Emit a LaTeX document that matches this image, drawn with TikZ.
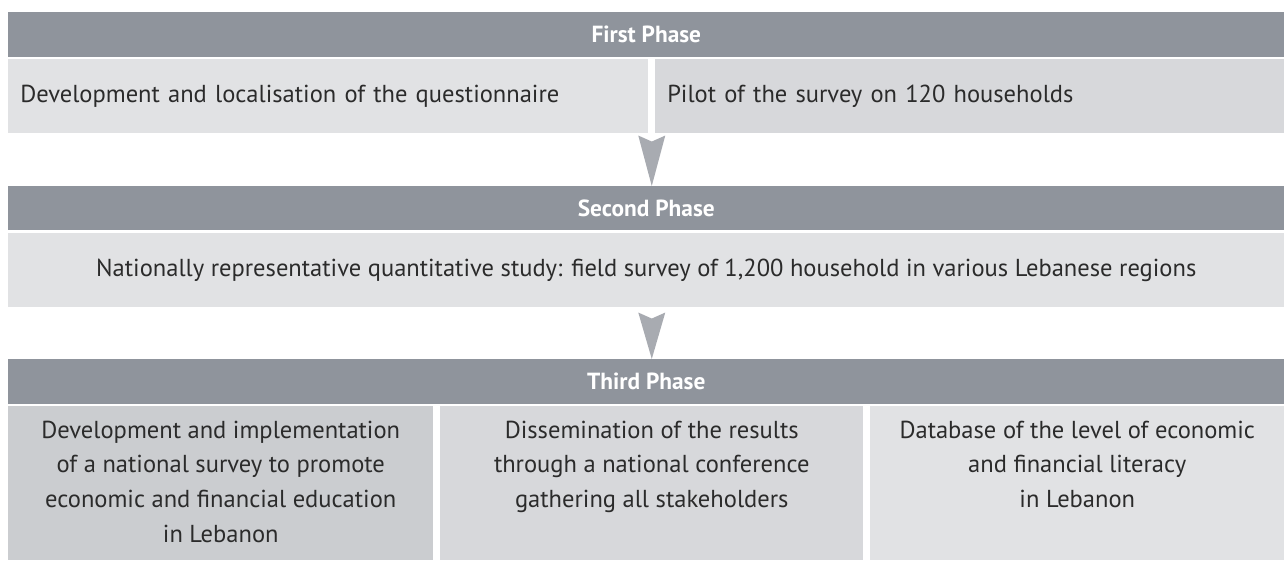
\documentclass[tikz,border=0pt]{standalone}
\usepackage{fontspec}
\setmainfont{PT Sans}
\usetikzlibrary{positioning,calc}

\definecolor{phasegray}{HTML}{8F949C}
\definecolor{boxlight}{HTML}{E1E2E4}
\definecolor{boxmid}{HTML}{D7D8DB}
\definecolor{boxdark}{HTML}{CBCDD0}
\definecolor{arrowgray}{HTML}{A8ABB1}
\definecolor{textdark}{HTML}{2B2B2B}

\begin{document}
\begin{tikzpicture}[x=0.75pt,y=-0.75pt,
    phasebar/.style={fill=phasegray, text=white, anchor=north west, inner sep=0pt,
      minimum width=0.75*1276pt, font=\fontsize{17.5}{20}\selectfont\bfseries},
    stepbox/.style={anchor=north west, inner sep=0pt, text=textdark,
      font=\fontsize{18.4}{21.4}\selectfont},
    celltext/.style={inner sep=0pt, align=center, text=textdark,
      font=\fontsize{18.4}{26}\selectfont},
    flowarrow/.style={fill=arrowgray}]
  \useasboundingbox (0,0) rectangle (1284,560);

  % first phase
  \node[phasebar, minimum height=0.75*45pt] (h1) at (8,12) {First Phase};
  \node[stepbox, fill=boxlight, minimum width=0.75*640pt, minimum height=0.75*74pt,
        inner xsep=9pt, text width=0.75*640pt-18pt, align=left] (b1l) at (8,59)
        {Development and localisation of the questionnaire};
  \node[stepbox, fill=boxmid, minimum width=0.75*629pt, minimum height=0.75*74pt,
        inner xsep=9pt, text width=0.75*629pt-18pt, align=left] (b1r) at (655,59)
        {Pilot of the survey on 120 households};

  % second phase
  \node[phasebar, minimum height=0.75*44pt] (h2) at (8,186) {Second Phase};
  \node[stepbox, fill=boxlight, minimum width=0.75*1276pt, minimum height=0.75*74pt] (b2) at (8,233)
        {Nationally representative quantitative study: field survey of 1,200 household in various Lebanese regions};

  % third phase
  \node[phasebar, minimum height=0.75*45pt] (h3) at (8,359) {Third Phase};
  \node[stepbox, fill=boxdark, minimum width=0.75*425pt, minimum height=0.75*154pt] (c1) at (8,406) {};
  \node[stepbox, fill=boxmid, minimum width=0.75*423pt, minimum height=0.75*154pt] (c2) at (440,406) {};
  \node[stepbox, fill=boxlight, minimum width=0.75*414pt, minimum height=0.75*154pt] (c3) at (870,406) {};
  \node[celltext, below=11pt of c1.north] (t1) {Development and implementation\\of a national survey to promote\\economic and financial education\\in Lebanon};
  \node[celltext, below=11pt of c2.north] (t2) {Dissemination of the results\\through a national conference\\gathering all stakeholders};
  \node[celltext, below=11pt of c3.north] (t3) {Database of the level of economic\\and financial literacy\\in Lebanon};

  % arrows between phases
  \coordinate (a1) at ($(b1l.south east)!0.5!(b1r.south west)+(0,2)$);
  \coordinate (a2) at ($(a1 |- b2.south)+(0,5)$);
  \fill[flowarrow] ($(a1)+(-13.5,0)$) -- ($(a1)+(0,6)$) -- ($(a1)+(13.5,0)$) -- (a1 |- h2.north) -- cycle;
  \fill[flowarrow] ($(a2)+(-13.5,0)$) -- ($(a2)+(0,6)$) -- ($(a2)+(13.5,0)$) -- (a2 |- h3.north) -- cycle;
\end{tikzpicture}
\end{document}
